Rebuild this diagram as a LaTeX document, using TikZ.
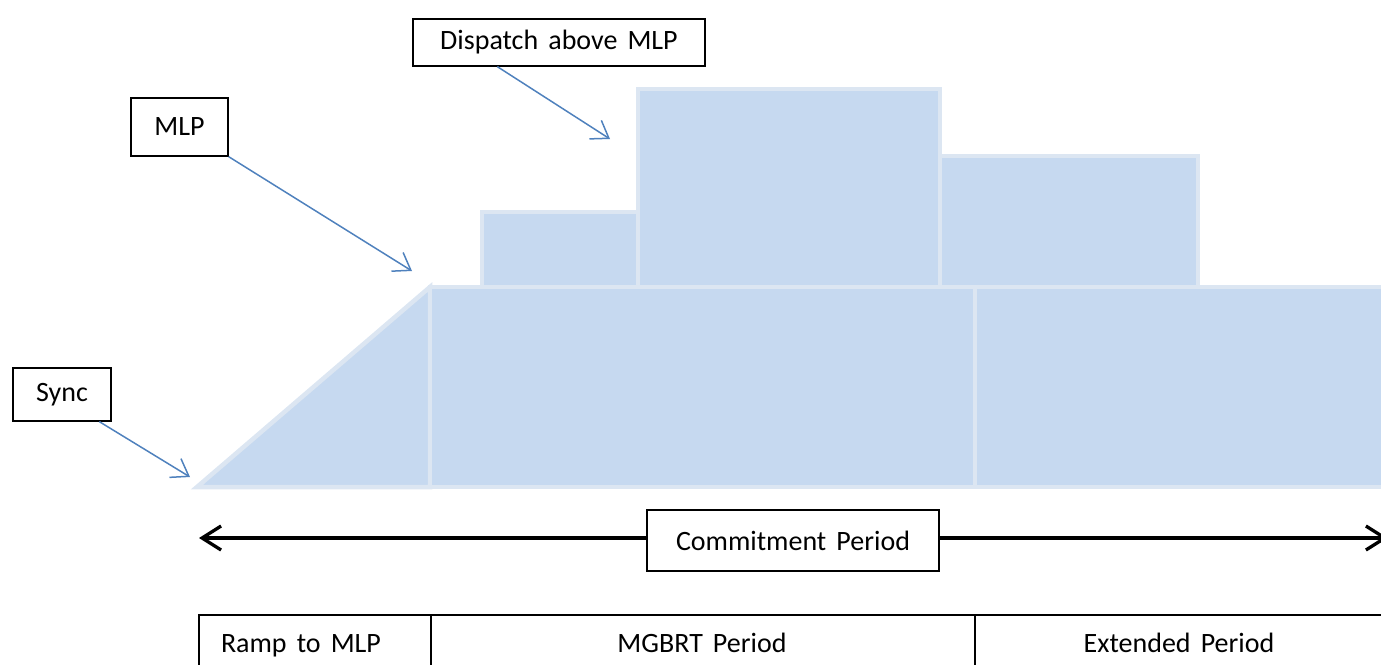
\documentclass[tikz,border=0pt]{standalone}
\usepackage{fontspec}
\setmainfont{Carlito}[WordSpace=1.6]
\usetikzlibrary{arrows.meta,calc}
\definecolor{blk}{RGB}{198,217,240}
\definecolor{blkedge}{RGB}{220,230,242}
\definecolor{callout}{RGB}{79,129,189}
\begin{document}
\begin{tikzpicture}[x=1pt,y=-1pt,
  block/.style={fill=blk,draw=blkedge,line width=4.5pt,line join=miter},
  lbox/.style={draw=black,fill=white,line width=1.3pt,font=\fontsize{28}{32}\selectfont,inner sep=0pt,anchor=center},
  ttext/.style={font=\fontsize{28}{32}\selectfont,inner sep=0pt,anchor=base},
  callarrow/.style={draw=callout,line width=1.5pt,-{Straight Barb[length=16pt,width=22pt]}},
  bigarrow/.style={draw=black,line width=3.3pt,-{Straight Barb[length=19pt,width=24pt]}},
  tline/.style={draw=black,line width=1.5pt}]
\useasboundingbox (0,0) rectangle (1381,664);
\clip (0,0) rectangle (1381,664);
% base blocks
\draw[block] (197,487) -- (430,287) -- (430,487) -- cycle;
\draw[block] (430,287) rectangle (975,487);
\draw[block] (975,287) rectangle (1395,487);
% upper blocks
\draw[block] (482,212) rectangle (638,287);
\draw[block] (638,89) rectangle (940,287);
\draw[block] (940,156) rectangle (1198,287);
% callout labels
\node[lbox,minimum width=292pt,minimum height=47pt] (disp) at (559,42.5) {Dispatch above MLP};
\node[lbox,minimum width=97pt,minimum height=58pt] (mlp) at (179.5,127) {MLP};
\node[lbox,minimum width=98pt,minimum height=53pt] (sync) at (62,394.5) {Sync};
\coordinate (dispT) at (610,139);
\coordinate (mlpT) at (412,271);
\coordinate (syncT) at (190,477);
\draw[callarrow] ($(disp.south west)+(85,0)$) -- (dispT);
\draw[callarrow] (mlp.south east) -- (mlpT);
\draw[callarrow] ($(sync.south west)+(87,0)$) -- (syncT);
% commitment period
\coordinate (cl) at (199,538);
\coordinate (cr) at (1388,538);
\draw[bigarrow] (700,538) -- (cl);
\draw[bigarrow] (900,538) -- (cr);
\node[lbox,minimum width=292pt,minimum height=61pt] (commit) at (793,540.5) {Commitment Period};
% bottom table
\draw[tline] (199,690) -- (199,615) -- (1395,615);
\draw[tline] (431,615) -- (431,690);
\draw[tline] (975,615) -- (975,690);
\node[ttext] (ramp) at (301,652) {Ramp to MLP};
\node[ttext] (mgbrt) at (702,652) {MGBRT Period};
\node[ttext] (ext) at (1179,652) {Extended Period};
\end{tikzpicture}
\end{document}
